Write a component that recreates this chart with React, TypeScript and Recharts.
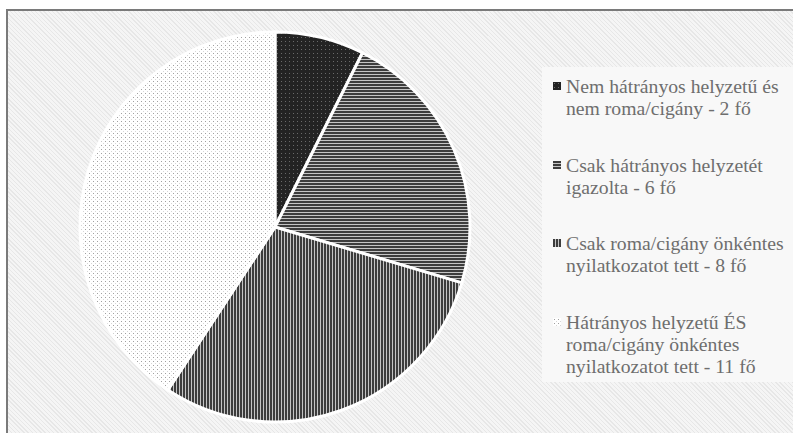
import { PieChart, Pie, Cell, Legend } from 'recharts';

const names = [
    'Nem hátrányos helyzetű és\nnem roma/cigány - 2 fő',
    'Csak hátrányos helyzetét\nigazolta - 6 fő',
    'Csak roma/cigány önkéntes\nnyilatkozatot tett - 8 fő',
    'Hátrányos helyzetű ÉS\nroma/cigány önkéntes\nnyilatkozatot tett - 11 fő',
];
const values = [2, 6, 8, 11];
const patternIds = ['pDark', 'pHoriz', 'pVert', 'pDots'];

const data = names.map((name, i) => ({ name, value: values[i] }));

const textFont = "'Liberation Serif', 'Times New Roman', serif";

function Patterns() {
    return (
        <defs>
            <pattern id="pDark" width="4" height="4" patternUnits="userSpaceOnUse">
                <rect width="4" height="4" fill="#232323" />
                <rect x="1" y="1" width="1" height="1" fill="#6a6a6a" />
            </pattern>
            <pattern id="pHoriz" width="3" height="3" patternUnits="userSpaceOnUse">
                <rect width="3" height="3" fill="#c4c4c4" />
                <rect width="3" height="2" fill="#3c3c3c" />
            </pattern>
            <pattern id="pVert" width="3" height="3" patternUnits="userSpaceOnUse">
                <rect width="3" height="3" fill="#c4c4c4" />
                <rect width="2" height="3" fill="#3c3c3c" />
            </pattern>
            <pattern id="pDots" width="4" height="4" patternUnits="userSpaceOnUse">
                <rect width="4" height="4" fill="#ffffff" />
                <rect x="1" y="1" width="1" height="1" fill="#a0a0a0" />
                <rect x="3" y="3" width="1" height="1" fill="#d6d6d6" />
            </pattern>
        </defs>
    );
}

function LegendBox() {
    return (
        <div
            style={{
                width: 260,
                height: 315,
                background: '#f8f8f8',
                boxSizing: 'border-box',
                paddingTop: 8,
                textAlign: 'left',
                fontFamily: textFont,
                fontSize: 19.7,
                lineHeight: '22px',
                color: '#6e6e6e',
            }}
        >
            {data.map((d, i) => (
                <div key={d.name} style={{ position: 'relative', marginBottom: 34.5, paddingLeft: 24 }}>
                    <svg width={8} height={8} style={{ position: 'absolute', left: 11, top: 7 }}>
                        <rect width={8} height={8} fill={`url(#${patternIds[i]})`} />
                    </svg>
                    <div style={{ whiteSpace: 'pre-line' }}>{d.name}</div>
                </div>
            ))}
        </div>
    );
}

export default function App() {
    return (
        <div
            style={{
                position: 'absolute',
                left: 0,
                top: 0,
                width: 793,
                height: 433,
                overflow: 'hidden',
                background: '#fff',
            }}
        >
            <div
                style={{
                    position: 'absolute',
                    left: 6,
                    top: 9,
                    width: 820,
                    height: 460,
                    borderTop: '2px solid #7a7a7a',
                    borderLeft: '2px solid #7a7a7a',
                    background:
                        'repeating-linear-gradient(45deg, #f5f5f5 0px, #f5f5f5 2px, #e7e7e7 2px, #e7e7e7 3px)',
                }}
            />
            <div style={{ position: 'absolute', left: 0, top: 0 }}>
                <PieChart width={793} height={433} margin={{ top: 0, right: 0, bottom: 0, left: 0 }}>
                    <Patterns />
                    <Pie
                        data={data}
                        dataKey="value"
                        nameKey="name"
                        cx={275}
                        cy={227}
                        outerRadius={195}
                        startAngle={90}
                        endAngle={-270}
                        stroke="#ffffff"
                        strokeWidth={3}
                        isAnimationActive={false}
                    >
                        {data.map((d, i) => (
                            <Cell key={d.name} fill={`url(#${patternIds[i]})`} />
                        ))}
                    </Pie>
                    <Legend
                        layout="vertical"
                        align="right"
                        verticalAlign="middle"
                        content={() => <LegendBox />}
                        wrapperStyle={{ position: 'absolute', left: 542, top: 67, width: 260, height: 315 }}
                    />
                </PieChart>
            </div>
        </div>
    );
}
